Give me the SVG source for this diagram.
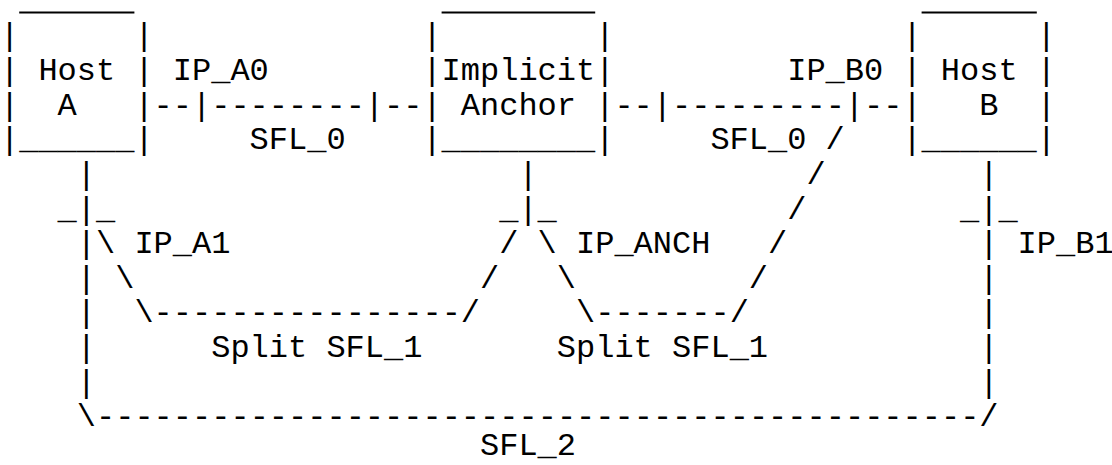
<svg xmlns="http://www.w3.org/2000/svg" width="1112" height="465" viewBox="0 0 1112 465" xml:space="preserve">
  <style>
    text { font-family: "Liberation Mono", "Courier New", monospace; font-size: 32px; fill: #000; white-space: pre; }
    .edge { stroke: #000; stroke-width: 1.8; fill: none; }
  </style>
  <rect width="1112" height="465" fill="#fff"/>

  <!-- Host A box (cols 0-7) -->
  <g id="host-a">
    <line class="edge" x1="19.2" y1="12.5" x2="134.4" y2="12.5"/>
    <text x="0" y="45.25">|      |</text>
    <text x="0" y="79.9">| Host |</text>
    <text x="0" y="114.55">|  A   |</text>
    <text x="0" y="149.2">|______|</text>
  </g>

  <!-- Implicit Anchor box (cols 22-31) -->
  <g id="implicit-anchor">
    <line class="edge" x1="441.6" y1="12.5" x2="595.2" y2="12.5"/>
    <text x="422.4" y="45.25">|        |</text>
    <text x="422.4" y="79.9">|Implicit|</text>
    <text x="422.4" y="114.55">| Anchor |</text>
    <text x="422.4" y="149.2">|________|</text>
  </g>

  <!-- Host B box (cols 47-54) -->
  <g id="host-b">
    <line class="edge" x1="921.6" y1="12.5" x2="1036.8" y2="12.5"/>
    <text x="902.4" y="45.25">|      |</text>
    <text x="902.4" y="79.9">| Host |</text>
    <text x="902.4" y="114.55">|   B  |</text>
    <text x="902.4" y="149.2">|______|</text>
  </g>

  <!-- Connectors drawn on the character grid -->
  <g id="connectors">
    <!-- SFL_0 links -->
    <text x="153.6" y="114.55">--|--------|--</text>
    <text x="614.4" y="114.55">--|---------|--</text>

    <!-- Host A interface IP_A1 and SFL_2 loop -->
    <text x="76.8" y="183.85">|</text>
    <text x="57.6" y="218.5">_|_</text>
    <text x="76.8" y="253.15">|\</text>
    <text x="76.8" y="287.8">| \</text>
    <text x="76.8" y="322.45">|  \----------------/</text>
    <text x="76.8" y="357.1">|</text>
    <text x="76.8" y="391.75">|</text>
    <text x="76.8" y="426.4">\----------------------------------------------/</text>

    <!-- Anchor interface IP_ANCH -->
    <text x="518.4" y="183.85">|</text>
    <text x="499.2" y="218.5">_|_</text>
    <text x="499.2" y="253.15">/ \</text>
    <text x="480" y="287.8">/   \</text>
    <text x="576" y="322.45">\-------/</text>

    <!-- Diagonal from IP_B0 down to split SFL_1 -->
    <text x="825.6" y="149.2">/</text>
    <text x="806.4" y="183.85">/</text>
    <text x="787.2" y="218.5">/</text>
    <text x="768" y="253.15">/</text>
    <text x="748.8" y="287.8">/</text>

    <!-- Host B interface IP_B1 -->
    <text x="979.2" y="183.85">|</text>
    <text x="960" y="218.5">_|_</text>
    <text x="979.2" y="253.15">|</text>
    <text x="979.2" y="287.8">|</text>
    <text x="979.2" y="322.45">|</text>
    <text x="979.2" y="357.1">|</text>
    <text x="979.2" y="391.75">|</text>
  </g>

  <!-- Labels -->
  <g id="labels">
    <text x="172.8" y="79.9">IP_A0</text>
    <text x="249.6" y="149.2">SFL_0</text>
    <text x="787.2" y="79.9">IP_B0</text>
    <text x="710.4" y="149.2">SFL_0</text>
    <text x="134.4" y="253.15">IP_A1</text>
    <text x="576" y="253.15">IP_ANCH</text>
    <text x="1017.6" y="253.15">IP_B1</text>
    <text x="211.2" y="357.1">Split SFL_1</text>
    <text x="556.8" y="357.1">Split SFL_1</text>
    <text x="480" y="455">SFL_2</text>
  </g>
</svg>
